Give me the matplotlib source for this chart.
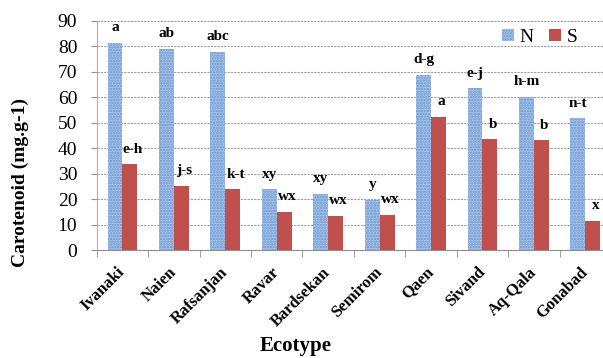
import numpy as np
import matplotlib.pyplot as plt
from matplotlib.patches import Patch

plt.rcParams['hatch.linewidth'] = 1.2

# carotenoid content per ecotype, N and S treatments
ecotypes = ['Ivanaki', 'Naien', 'Rafsanjan', 'Ravar', 'Bardsekan',
            'Semirom', 'Qaen', 'Sivand', 'Aq-Qala', 'Gonabad']
n_vals = [81.4, 78.9, 77.9, 23.9, 22.1, 19.7, 68.7, 63.5, 60.2, 51.7]
s_vals = [33.7, 25.1, 23.9, 15.0, 13.4, 13.8, 52.4, 43.5, 43.1, 11.4]
n_letters = ['a', 'ab', 'abc', 'xy', 'xy', 'y', 'd-g', 'e-j', 'h-m', 'n-t']
s_letters = ['e-h', 'j-s', 'k-t', 'wx', 'wx', 'wx', 'a', 'b', 'b', 'x']

serif = 'Liberation Serif'
blue_face = '#a9c4e8'
blue_dots = '#6a97d3'
red = '#c0504d'

fig = plt.figure(figsize=(6.03, 3.58), dpi=100)
ax = fig.add_axes([0.1604, 0.3008, 0.853, 0.6414])

x = np.arange(len(ecotypes))
w = 0.29
bn = ax.bar(x - w / 2, n_vals, w, color=blue_face, hatch='......',
            edgecolor=blue_dots, linewidth=0, zorder=3)
bs = ax.bar(x + w / 2, s_vals, w, color=red, linewidth=0, zorder=3)

for xi, v, t in zip(x - w / 2, n_vals, n_letters):
    ax.annotate(t, (xi, v), xytext=(0, 11), textcoords='offset points',
                ha='center', va='center', fontsize=11, fontweight='bold',
                family=serif)
for xi, v, t in zip(x + w / 2, s_vals, s_letters):
    ax.annotate(t, (xi, v), xytext=(2, 11), textcoords='offset points',
                ha='center', va='center', fontsize=11, fontweight='bold',
                family=serif)

ax.set_xlim(-0.5, len(ecotypes) - 0.5)
ax.set_ylim(0, 90)
ax.set_yticks(np.arange(0, 91, 10))
ax.yaxis.grid(True, linestyle=(0, (2, 1)), color='#a0a0a0', linewidth=0.8, zorder=0)

for sp in ['top', 'right']:
    ax.spines[sp].set_visible(False)
ax.spines['left'].set_color('#b0b0b0')
ax.spines['bottom'].set_color('#909090')

ax.tick_params(axis='y', length=4, color='#909090', pad=10, labelsize=14)
for lab in ax.get_yticklabels():
    lab.set_family(serif)

ax.set_xticks(x)
ax.set_xticklabels(ecotypes, rotation=45, ha='right', va='center',
                   rotation_mode='anchor', fontsize=12, fontweight='bold',
                   family=serif)
ax.tick_params(axis='x', which='major', length=0, pad=14)
ax.set_xticks(np.arange(-0.5, len(ecotypes), 1), minor=True)
ax.tick_params(axis='x', which='minor', length=5, color='#909090')

fig.text(0.033, 0.49, 'Carotenoid (mg.g-1)', rotation=90, ha='center',
         va='center', fontsize=14, fontweight='bold', family=serif)
fig.text(0.49, 0.006, 'Ecotype', ha='center', va='bottom', fontsize=15,
         fontweight='bold', family=serif)

handles = [Patch(facecolor=blue_face, hatch='......', edgecolor=blue_dots,
                 linewidth=0, label='N'),
           Patch(facecolor=red, linewidth=0, label='S')]
fig.legend(handles=handles, loc='center', bbox_to_anchor=(0.895, 0.895),
           ncol=2, frameon=False, prop={'family': serif, 'size': 14},
           handlelength=0.6, handleheight=0.6, handletextpad=0.3,
           columnspacing=0.8)

fig.savefig('out.png', dpi=100)
